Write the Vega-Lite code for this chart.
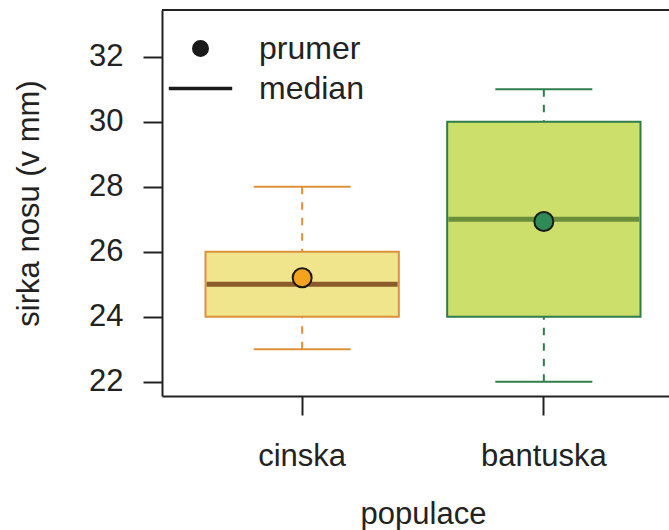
{
  "$schema": "https://vega.github.io/schema/vega-lite/v6.json",
  "autosize": "none",
  "width": 507,
  "height": 386,
  "padding": {"left": 162, "top": 10, "right": 0, "bottom": 134},
  "background": "white",
  "config": {
    "view": {"stroke": null},
    "font": "Liberation Sans",
    "axis": {
      "grid": false,
      "labelFont": "Liberation Sans",
      "titleFont": "Liberation Sans",
      "labelFontSize": 31,
      "titleFontSize": 31,
      "titleFontWeight": "normal",
      "labelColor": "#222222",
      "titleColor": "#222222",
      "domainColor": "#222222",
      "domainWidth": 2,
      "tickColor": "#222222",
      "tickWidth": 2,
      "tickSize": 19
    }
  },
  "data": {
    "values": [
      {"populace": "cinska", "min": 23, "q1": 24, "median": 25, "q3": 26, "max": 28, "mean": 25.2},
      {"populace": "bantuska", "min": 22, "q1": 24, "median": 27, "q3": 30, "max": 31, "mean": 26.93}
    ]
  },
  "layer": [
    {
      "mark": {"type": "rule", "strokeWidth": 2, "strokeDash": [7.5, 8], "opacity": 1},
      "encoding": {
        "x": {
          "field": "populace",
          "type": "nominal",
          "sort": ["cinska", "bantuska"],
          "scale": {"type": "band", "domain": ["cinska", "bantuska"], "range": [0, 522], "paddingInner": 0.2, "paddingOuter": 0.18},
          "axis": {"title": "populace", "labelAngle": 0, "labelPadding": 26, "titlePadding": 28}
        },
        "y": {"field": "max", "type": "quantitative", "scale": {"domain": [21.56, 33.44], "nice": false, "zero": false},
              "axis": {"title": "sirka nosu (v mm)", "values": [22, 24, 26, 28, 30, 32], "labelPadding": 20, "titlePadding": 43}},
        "y2": {"field": "q3"},
        "color": {"field": "populace", "type": "nominal", "scale": {"domain": ["cinska", "bantuska"], "range": ["#DB923A", "#2E7D4A"]}, "legend": null}
      }
    },
    {
      "mark": {"type": "rule", "strokeWidth": 2, "strokeDash": [7.5, 8], "opacity": 1},
      "encoding": {
        "x": {"field": "populace", "type": "nominal"},
        "y": {"field": "min", "type": "quantitative"},
        "y2": {"field": "q1"},
        "color": {"field": "populace", "type": "nominal", "scale": {"domain": ["cinska", "bantuska"], "range": ["#DB923A", "#2E7D4A"]}, "legend": null}
      }
    },
    {
      "mark": {"type": "tick", "size": 97, "thickness": 2, "orient": "horizontal", "opacity": 1},
      "encoding": {
        "x": {"field": "populace", "type": "nominal"},
        "y": {"field": "max", "type": "quantitative"},
        "color": {"field": "populace", "type": "nominal", "scale": {"domain": ["cinska", "bantuska"], "range": ["#DB923A", "#2E7D4A"]}, "legend": null}
      }
    },
    {
      "mark": {"type": "tick", "size": 97, "thickness": 2, "orient": "horizontal", "opacity": 1},
      "encoding": {
        "x": {"field": "populace", "type": "nominal"},
        "y": {"field": "min", "type": "quantitative"},
        "color": {"field": "populace", "type": "nominal", "scale": {"domain": ["cinska", "bantuska"], "range": ["#DB923A", "#2E7D4A"]}, "legend": null}
      }
    },
    {
      "mark": {"type": "bar", "strokeWidth": 2, "opacity": 1},
      "encoding": {
        "x": {"field": "populace", "type": "nominal"},
        "y": {"field": "q1", "type": "quantitative"},
        "y2": {"field": "q3"},
        "fill": {"field": "populace", "type": "nominal", "scale": {"domain": ["cinska", "bantuska"], "range": ["#F0E48C", "#CCDF6B"]}, "legend": null},
        "stroke": {"field": "populace", "type": "nominal", "scale": {"domain": ["cinska", "bantuska"], "range": ["#DB923A", "#2E7D4A"]}, "legend": null}
      }
    },
    {
      "mark": {"type": "tick", "size": 191, "thickness": 5, "orient": "horizontal", "opacity": 1},
      "encoding": {
        "x": {"field": "populace", "type": "nominal"},
        "y": {"field": "median", "type": "quantitative"},
        "color": {"field": "populace", "type": "nominal", "scale": {"domain": ["cinska", "bantuska"], "range": ["#8B5A2B", "#6B8E3A"]}, "legend": null}
      }
    },
    {
      "mark": {"type": "point", "filled": true, "size": 361, "stroke": "#1a1a1a", "strokeWidth": 2, "opacity": 1},
      "encoding": {
        "x": {"field": "populace", "type": "nominal"},
        "y": {"field": "mean", "type": "quantitative"},
        "fill": {"field": "populace", "type": "nominal", "scale": {"domain": ["cinska", "bantuska"], "range": ["#F5A31E", "#2E8B57"]}, "legend": null},
        "shape": {
          "datum": "prumer",
          "scale": {"domain": ["prumer", "median"], "range": ["circle", "M-4.7,0L4.7,0"]},
          "legend": {
            "title": null,
            "orient": "none",
            "legendX": 22.5,
            "legendY": 22.5,
            "padding": 0,
            "symbolSize": 182,
            "symbolStrokeWidth": 3.5,
            "symbolFillColor": "#1a1a1a",
            "symbolStrokeColor": "#1a1a1a",
            "symbolOpacity": 1,
            "labelFont": "Liberation Sans",
            "labelFontSize": 32,
            "labelColor": "#222222",
            "labelOffset": 42.5,
            "rowPadding": 8
          }
        }
      }
    },
    {
      "mark": {"type": "rule", "color": "#222222", "strokeWidth": 2, "opacity": 1},
      "encoding": {"y": {"datum": 33.44, "type": "quantitative"}}
    }
  ],
  "resolve": {"scale": {"color": "independent", "fill": "independent", "stroke": "independent"}}
}
